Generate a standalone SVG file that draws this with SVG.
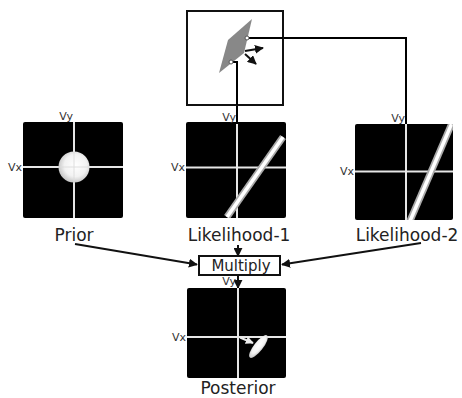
<svg xmlns="http://www.w3.org/2000/svg" width="462" height="398" viewBox="0 0 462 398">
  <style>
    .plot { fill: #000; }
    .axis { stroke: #e6e6e6; stroke-width: 2; }
    .ax { font-family: "DejaVu Sans", sans-serif; font-size: 11px; fill: #333; }
    .label { font-family: "DejaVu Sans", sans-serif; font-size: 17px; fill: #222; text-anchor: middle; }
    .conn { stroke: #000; stroke-width: 2; fill: none; }
    .arr { stroke: #111; stroke-width: 2; fill: none; marker-end: url(#head); }
    .band-o { stroke: #aaa; stroke-width: 7; }
    .band-i { stroke: #fff; stroke-width: 3.5; }
  </style>
  <defs>
    <marker id="head" viewBox="0 0 10 10" refX="9" refY="5" markerWidth="4.5" markerHeight="4.5" orient="auto" markerUnits="strokeWidth">
      <path d="M0,0 L10,5 L0,10 z" fill="#111"/>
    </marker>
    <marker id="whitehead" viewBox="0 0 10 10" refX="9" refY="5" markerWidth="4" markerHeight="4" orient="auto" markerUnits="strokeWidth">
      <path d="M0,0 L10,5 L0,10 z" fill="#eee"/>
    </marker>
    <radialGradient id="blob" cx="0.55" cy="0.45" r="0.6">
      <stop offset="0" stop-color="#fff"/>
      <stop offset="0.6" stop-color="#f2f2f2"/>
      <stop offset="1" stop-color="#bdbdbd"/>
    </radialGradient>
    <clipPath id="clipL1"><rect x="186" y="122" width="100" height="96" rx="2"/></clipPath>
    <clipPath id="clipL2"><rect x="355" y="124" width="98" height="96" rx="2"/></clipPath>
  </defs>

  <!-- connectors -->
  <g id="connectors">
    <polyline class="conn" points="249,38 406,38 406,126"/>
    <polyline class="conn" points="233,62 237,62 237,124"/>
    <line class="arr" x1="75" y1="244" x2="197" y2="264.5"/>
    <line class="arr" x1="421" y1="243" x2="282" y2="264.5"/>
    <line class="arr" x1="238" y1="245" x2="238" y2="256"/>
    <line class="arr" x1="238" y1="275" x2="238" y2="288"/>
  </g>

  <!-- velocity diagram: moving edge with aperture points -->
  <g id="stimulus">
    <rect x="187" y="11" width="96" height="94" fill="#fff" stroke="#111" stroke-width="2"/>
    <polygon points="252,19 228,40 219,73 244,53" fill="#888"/>
    <polyline class="conn" points="249,38 283,38"/>
    <polyline class="conn" points="233,62 237,62 237,105"/>
    <circle cx="247" cy="38" r="2" fill="#fff" stroke="#555" stroke-width="1"/>
    <circle cx="231" cy="62" r="2" fill="#fff" stroke="#555" stroke-width="1"/>
    <line class="arr" x1="245" y1="51" x2="263" y2="48"/>
    <line class="arr" x1="245" y1="54" x2="256" y2="64"/>
  </g>

  <!-- prior -->
  <g id="prior">
    <rect class="plot" x="23" y="122" width="100" height="96" rx="2"/>
    <line class="axis" x1="74" y1="122" x2="74" y2="218"/>
    <line class="axis" x1="23" y1="167" x2="123" y2="167"/>
    <circle cx="74" cy="167" r="15.5" fill="url(#blob)"/>
    <line x1="74" y1="152" x2="74" y2="182" stroke="#ddd" stroke-width="1.5" opacity="0.6"/>
    <line x1="59" y1="167" x2="89" y2="167" stroke="#ddd" stroke-width="1.5" opacity="0.6"/>
    <text class="ax" x="73" y="120" text-anchor="end">Vy</text>
    <text class="ax" x="22" y="171" text-anchor="end">Vx</text>
    <text class="label" x="74" y="241">Prior</text>
  </g>

  <!-- likelihood 1 -->
  <g id="likelihood1">
    <rect class="plot" x="186" y="122" width="100" height="96" rx="2"/>
    <line class="axis" x1="237" y1="122" x2="237" y2="218"/>
    <line class="axis" x1="186" y1="167.5" x2="286" y2="167.5"/>
    <g clip-path="url(#clipL1)">
      <line class="band-o" x1="227" y1="217" x2="283" y2="137"/>
      <line class="band-i" x1="227" y1="217" x2="283" y2="137"/>
    </g>
    <line x1="237" y1="122" x2="237" y2="124" stroke="#000" stroke-width="2"/>
    <text class="ax" x="236" y="121" text-anchor="end">Vy</text>
    <text class="ax" x="185" y="171" text-anchor="end">Vx</text>
    <text class="label" x="239" y="241">Likelihood-1</text>
  </g>

  <!-- likelihood 2 -->
  <g id="likelihood2">
    <rect class="plot" x="355" y="124" width="98" height="96" rx="2"/>
    <line class="axis" x1="406" y1="124" x2="406" y2="220"/>
    <line class="axis" x1="355" y1="171.5" x2="453" y2="171.5"/>
    <g clip-path="url(#clipL2)">
      <line class="band-o" x1="410" y1="221" x2="452" y2="123"/>
      <line class="band-i" x1="410" y1="221" x2="452" y2="123"/>
    </g>
    <text class="ax" x="405" y="122" text-anchor="end">Vy</text>
    <text class="ax" x="354" y="175" text-anchor="end">Vx</text>
    <text class="label" x="407" y="241">Likelihood-2</text>
  </g>

  <!-- multiply -->
  <g id="multiply">
    <rect x="199" y="256" width="81" height="19" fill="#fff" stroke="#111" stroke-width="2"/>
    <text x="241" y="271" font-family="DejaVu Sans, sans-serif" font-size="15" fill="#222" text-anchor="middle">Multiply</text>
  </g>

  <!-- posterior -->
  <g id="posterior">
    <rect class="plot" x="187" y="288" width="99" height="90" rx="2"/>
    <line class="axis" x1="238" y1="288" x2="238" y2="378"/>
    <line class="axis" x1="187" y1="337" x2="286" y2="337"/>
    <ellipse cx="258.5" cy="346.5" rx="14" ry="4.5" transform="rotate(-52 258.5 346.5)" fill="url(#blob)"/>
    <line x1="240" y1="337.5" x2="253" y2="343" stroke="#eee" stroke-width="2" marker-end="url(#whitehead)"/>
    <text class="ax" x="236" y="285" text-anchor="end">Vy</text>
    <text class="ax" x="186" y="341" text-anchor="end">Vx</text>
    <text class="label" x="238" y="394">Posterior</text>
  </g>
</svg>
